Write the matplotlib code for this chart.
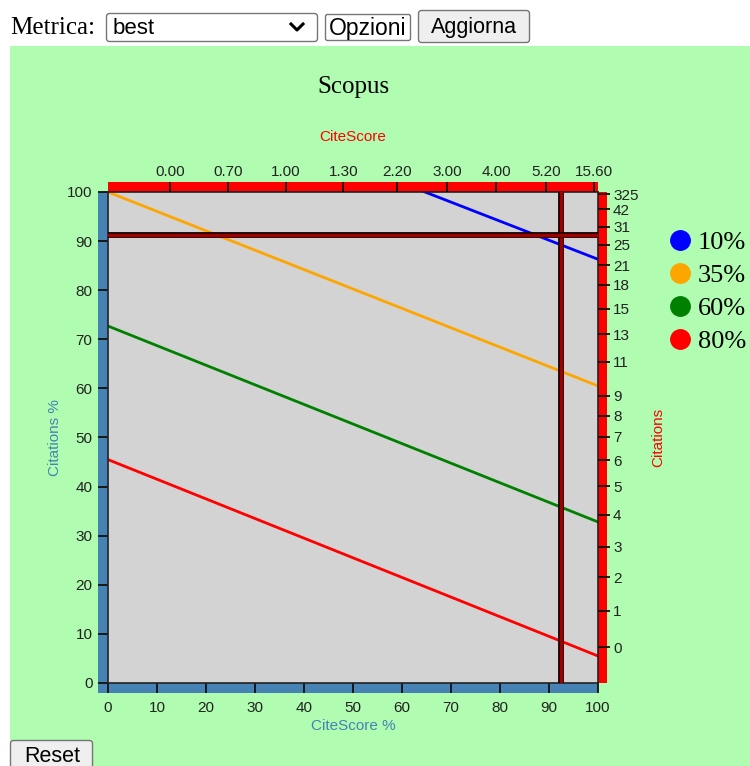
import matplotlib.pyplot as plt
from matplotlib.patches import Rectangle, FancyBboxPatch
from matplotlib.lines import Line2D
from matplotlib.transforms import Affine2D
import matplotlib.patheffects as pe

# percent scale on both axes
pct_ticks = [0, 10, 20, 30, 40, 50, 60, 70, 80, 90, 100]

# iso-percentile lines: value at CiteScore 0% and at 100%
series_names = ["10%", "35%", "60%", "80%"]
series_colors = ["#0000ff", "#ffa500", "#008000", "#ff0000"]
y_at_0 = [125.1, 100.0, 72.7, 45.5]
y_at_100 = [86.3, 60.5, 32.8, 5.5]

# CiteScore values on the top axis (at their percentile)
cs_pct = [12.6, 24.5, 36.3, 48.0, 59.0, 69.2, 79.2, 89.4, 99.2]
cs_labels = ["0.00", "0.70", "1.00", "1.30", "2.20", "3.00", "4.00", "5.20", "15.60"]

# Citations values on the right axis (at their percentile)
cit_pct = [7.3, 14.7, 21.5, 27.8, 34.3, 40.1, 45.4, 50.2, 54.4, 58.5,
           65.4, 71.0, 76.2, 81.1, 85.1, 89.3, 92.9, 96.5, 99.5]
cit_labels = ["0", "1", "2", "3", "4", "5", "6", "7", "8", "9",
              "11", "13", "15", "18", "21", "25", "31", "42", "325"]

# selected point (crosshair)
sel_x = 92.4
sel_y = 91.2

W, H = 750, 766
GREEN = "#b0fcb0"
SANS = "Liberation Sans"
SERIF = "Liberation Serif"
TXT = "#222222"

fig = plt.figure(figsize=(W / 100, H / 100), dpi=100)
fig.patch.set_facecolor("white")
# pixel coords, y measured from the top
pix = Affine2D().scale(1 / 100, -1 / 100).translate(0, H / 100) + fig.dpi_scale_trans

# page bits around the chart
fig.patches.append(Rectangle((10, 46), 740, 730, transform=pix, facecolor=GREEN,
                             edgecolor="none", zorder=-1))
fig.text(10, 28, "Metrica:", transform=pix, family=SERIF, size=18, va="center")

sel_box = FancyBboxPatch((106.5, 13.5), 211, 28, boxstyle="round,pad=0,rounding_size=3",
                         transform=pix, facecolor="white", edgecolor="#767676", lw=1)
fig.patches.append(sel_box)
fig.text(113, 28, "best", transform=pix, family=SANS, size=16, va="center")
fig.lines.append(Line2D([291, 297, 303], [24, 30, 24], transform=pix, color="black", lw=2.2))

opz_box = FancyBboxPatch((325.5, 14.5), 85, 26, boxstyle="round,pad=0,rounding_size=2",
                         transform=pix, facecolor="white", edgecolor="#767676", lw=1)
fig.patches.append(opz_box)
t = fig.text(329, 28, "Opzioni", transform=pix, family=SANS, size=16.5, va="center")
t.set_clip_path(opz_box)

agg_box = FancyBboxPatch((418.5, 10.5), 111, 32, boxstyle="round,pad=0,rounding_size=3",
                         transform=pix, facecolor="#efefef", edgecolor="#767676", lw=1)
fig.patches.append(agg_box)
fig.text(474, 27, "Aggiorna", transform=pix, family=SANS, size=15.5, ha="center", va="center")

reset_box = FancyBboxPatch((10.5, 740.5), 82, 40, boxstyle="round,pad=0,rounding_size=3",
                           transform=pix, facecolor="#efefef", edgecolor="#767676", lw=1)
fig.patches.append(reset_box)
fig.text(52, 757, "Reset", transform=pix, family=SANS, size=15.5, ha="center", va="center")

fig.text(353, 87, "Scopus", transform=pix, family=SERIF, size=18, ha="center", va="center")

# main plot
ax = fig.add_axes([108 / W, 1 - 683 / H, 490 / W, 491 / H])
ax.set_facecolor("lightgray")
ax.set_xlim(0, 100)
ax.set_ylim(0, 100)

bx, by = 10 / 490, 10 / 491
ax.add_patch(Rectangle((-bx, -by), bx, 1 + by, transform=ax.transAxes,
                       facecolor="steelblue", clip_on=False, zorder=1))
ax.add_patch(Rectangle((-bx, -by), 1 + bx, by, transform=ax.transAxes,
                       facecolor="steelblue", clip_on=False, zorder=1))
ax.add_patch(Rectangle((0, 1), 1, by, transform=ax.transAxes,
                       facecolor="red", clip_on=False, zorder=1))
ax.add_patch(Rectangle((1, 0), 9 / 490, 1, transform=ax.transAxes,
                       facecolor="red", clip_on=False, zorder=1))

for name, col, y0, y1 in zip(series_names, series_colors, y_at_0, y_at_100):
    ax.plot([0, 100], [y0, y1], color=col, lw=2.0, label=name)

cross_fx = [pe.Stroke(linewidth=4.2, foreground="#1a0000"), pe.Normal()]
ax.axvline(sel_x, color="#a00000", lw=2.3, zorder=3, path_effects=cross_fx)
ax.axhline(sel_y, color="#a00000", lw=2.3, zorder=3, path_effects=cross_fx)

ax.set_xticks(pct_ticks)
ax.set_yticks(pct_ticks)
ax.tick_params(direction="out", length=7.2, width=1.3, color="#111111", pad=4,
               labelsize=11, labelcolor=TXT, labelfontfamily=SANS)
ax.tick_params(axis="x", pad=6)
for sp in ax.spines.values():
    sp.set_color("#222222")
    sp.set_linewidth(1.2)

ax.set_xlabel("CiteScore %", color="steelblue", family=SANS, size=11, va="center")
ax.xaxis.set_label_coords(0.5, -(726 - 683) / 491)
ax.set_ylabel("Citations %", color="steelblue", family=SANS, size=11, va="center")
ax.yaxis.set_label_coords((55 - 108) / 490, 0.5)

# top axis: CiteScore values
ax_top = ax.twiny()
ax_top.set_xlim(0, 100)
ax_top.set_xticks(cs_pct, cs_labels)
ax_top.tick_params(direction="out", length=7.2, width=1.3, color="#111111", pad=1.8,
                   labelsize=11, labelcolor=TXT, labelfontfamily=SANS)
ax_top.set_xlabel("CiteScore", color="red", family=SANS, size=11, va="center")
ax_top.xaxis.set_label_coords(0.5, (683 - 137) / 491)

# right axis: Citations values
ax_right = ax.twinx()
ax_right.set_ylim(0, 100)
ax_right.set_yticks(cit_pct, cit_labels)
ax_right.tick_params(direction="out", length=8.6, width=1.3, color="#111111", pad=2.2,
                     labelsize=11, labelcolor=TXT, labelfontfamily=SANS)
ax_right.set_ylabel("Citations", color="red", family=SANS, size=11, va="center")
ax_right.yaxis.set_label_coords((658 - 108) / 490, 0.5)
for a in (ax_top, ax_right):
    for sp in a.spines.values():
        sp.set_visible(False)

handles = [Line2D([], [], marker="o", ls="none", markersize=14, color=c) for c in series_colors]
fig.legend(handles, series_names, loc="upper left", bbox_to_anchor=(669 / W, 1 - 231 / H),
           frameon=False, prop={"family": SERIF, "size": 19}, handlelength=0.8,
           handletextpad=0.3, labelspacing=0.36, borderpad=0, borderaxespad=0)

fig.savefig("out.png", dpi=100, facecolor=fig.get_facecolor())
